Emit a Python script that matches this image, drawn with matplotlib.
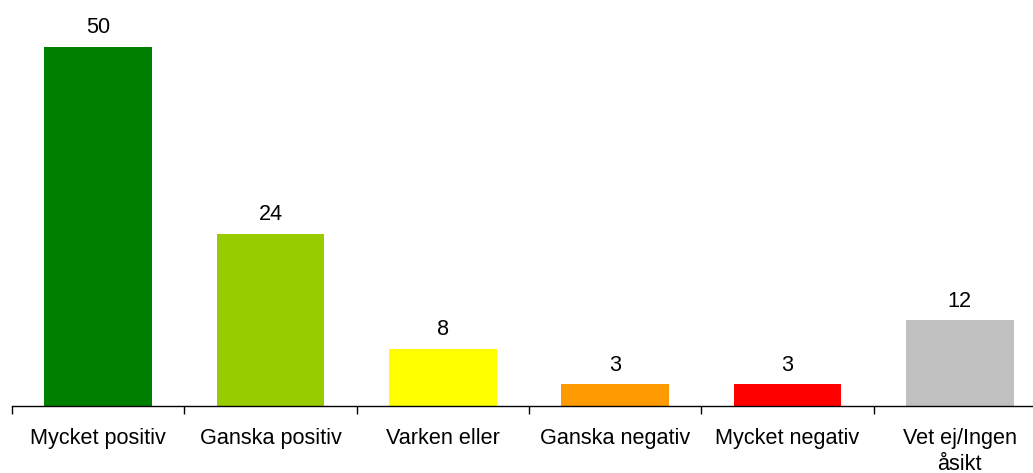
import numpy as np
import matplotlib.pyplot as plt

categories = ['Mycket positiv', 'Ganska positiv', 'Varken eller',
              'Ganska negativ', 'Mycket negativ', 'Vet ej/Ingen\nåsikt']
values = [50, 24, 8, 3, 3, 12]
colors = ['#008000', '#99CC00', '#FFFF00', '#FF9900', '#FF0000', '#C0C0C0']

plt.rcParams['font.family'] = ['Liberation Sans', 'DejaVu Sans']

fig = plt.figure(figsize=(10.33, 4.73), dpi=100)
# axes runs a little past the right edge, like the original
ax = fig.add_axes([12 / 1033, 67 / 473, 1034 / 1033, 406 / 473])

x = np.arange(len(categories))
bars = ax.bar(x, values, width=0.626, color=colors)

for b, v in zip(bars, values):
    ax.annotate(str(v), (b.get_x() + b.get_width() / 2, v),
                xytext=(0, 13.5), textcoords='offset points',
                ha='center', va='center', fontsize=15.6)

ax.set_xlim(-0.5, len(categories) - 0.5)
ax.set_ylim(0, 56.5)

ax.set_xticks(x)
ax.set_xticklabels(categories, fontsize=15.6, va='top', linespacing=1.28)
ax.tick_params(axis='x', which='major', length=0, pad=16)
ax.set_xticks(np.arange(-0.5, len(categories)), minor=True)
ax.tick_params(axis='x', which='minor', length=5.5, width=1, direction='out')

ax.set_yticks([])
for s in ['top', 'right', 'left']:
    ax.spines[s].set_visible(False)
ax.spines['bottom'].set_linewidth(1)

fig.savefig('out.png', dpi=100)
